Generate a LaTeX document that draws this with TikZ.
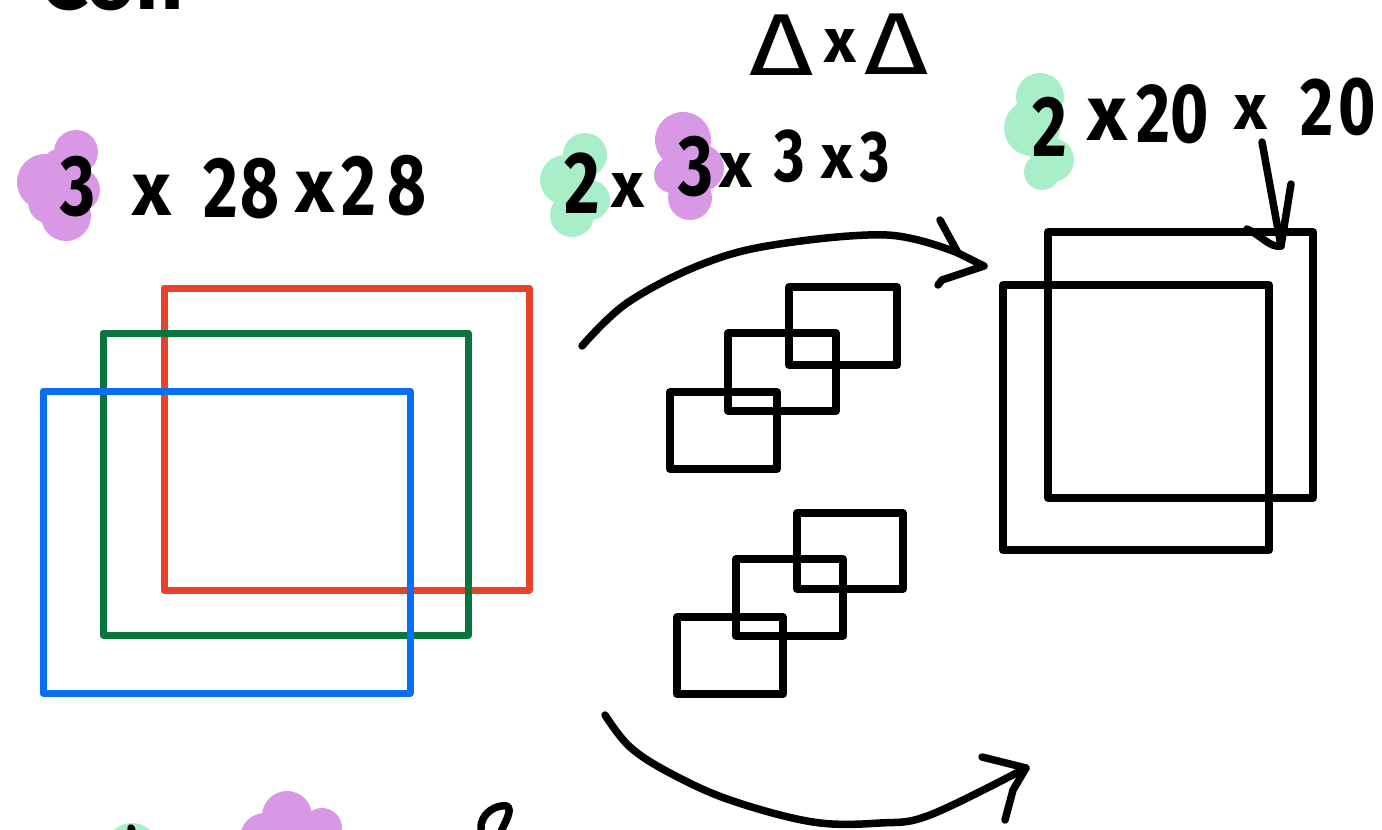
\documentclass[tikz,border=0pt]{standalone}
\usepackage{fontspec}
\setmainfont{Fira Sans}
\definecolor{chanR}{HTML}{E8412C}
\definecolor{chanG}{HTML}{08763C}
\definecolor{chanB}{HTML}{0A6EF5}
\definecolor{hlPurple}{HTML}{D998E6}
\definecolor{hlGreen}{HTML}{A8EFC9}
\begin{document}
\begin{tikzpicture}[x=1pt, y=-1pt, line cap=round, line join=round,
  ink/.style={draw=black, line width=7.5pt},
  fmap/.style={draw=#1, line width=7pt, inner sep=0pt, outer sep=0pt},
  kbox/.style={draw=black, line width=7.5pt, inner sep=0pt, outer sep=0pt},
  dig/.style={font=\fontsize{#1}{#1}\selectfont\bfseries, inner sep=0pt, xscale=0.78},
  tms/.style={font=\fontsize{#1}{#1}\selectfont\bfseries, inner sep=0pt},
  tri/.style={font=\fontsize{#1}{#1}\selectfont, inner sep=0pt, xscale=1.25},
  hlP/.style={fill=hlPurple},
  hlG/.style={fill=hlGreen}]
\useasboundingbox (0,0) rectangle (1382,830);
\clip (0,0) rectangle (1382,830);

% ---------- highlight blobs behind the channel counts ----------
\fill[hlP] (76,152) circle (22) (45,182) circle (28) (78,190) circle (22)
           (66,216) circle (25) (50,202) circle (22) (62,170) circle (22);
\fill[hlG] (585,155) circle (22) (565,180) circle (25) (590,200) circle (20)
           (572,215) circle (22);
\fill[hlP] (683,140) circle (28) (700,168) circle (24) (690,198) circle (22)
           (672,175) circle (18);
\fill[hlG] (1040,97) circle (24) (1032,128) circle (28) (1052,160) circle (22)
           (1042,172) circle (18);
\fill[hlG] (132,850) circle (27);
\fill[hlP] (287,816) circle (25) (322,828) circle (20) (265,838) circle (25);

% ---------- partly visible heading ----------
\node[tms=84, anchor=base west] (head) at (40,9) {Con};

% ---------- input: three colour channels ----------
\node[fmap=chanR, minimum width=365pt, minimum height=302pt] (inR) at (346.5,439) {};
\node[fmap=chanG, minimum width=365pt, minimum height=302pt] (inG) at (285.5,484) {};
\node[fmap=chanB, minimum width=367pt, minimum height=302pt] (inB) at (226.5,542) {};

% label 3 x 28 x 28
\node[dig=86] (l1a) at (78,187) {3};
\node[tms=76] (l1b) at (152,195) {x};
\node[dig=86] (l1c) at (221,188) {2};
\node[dig=86] (l1d) at (260,189) {8};
\node[tms=76] (l1e) at (315,192) {x};
\node[dig=86] (l1f) at (359,186) {2};
\node[dig=86] (l1g) at (407,186) {8};

% ---------- kernels: two filters of 3 x 3 x 3 ----------
\node[kbox, minimum width=108pt, minimum height=78pt] (k1a) at (843,326) {};
\node[kbox, minimum width=108pt, minimum height=78pt] (k1b) at (782,372) {};
\node[kbox, minimum width=107pt, minimum height=77pt] (k1c) at (723.5,430.5) {};
\node[kbox, minimum width=106pt, minimum height=76pt] (k2a) at (850,551) {};
\node[kbox, minimum width=107pt, minimum height=77pt] (k2b) at (789.5,597.5) {};
\node[kbox, minimum width=106pt, minimum height=77pt] (k2c) at (730,655.5) {};

% label 2 x 3 x 3 x 3
\node[dig=88] (l2a) at (582,183) {2};
\node[tms=64] (l2b) at (628,191) {x};
\node[dig=86] (l2c) at (696,167) {3};
\node[tms=64] (l2d) at (736,171) {x};
\node[dig=75] (l2e) at (790,156) {3};
\node[tms=62] (l2f) at (837,162) {x};
\node[dig=72] (l2g) at (875,157) {3};

% label above the kernels
\node[tri=88] (l0a) at (782,45) {Δ};
\node[tms=62] (l0b) at (840,46) {x};
\node[tri=88] (l0c) at (897,44) {Δ};

% ---------- output: two feature maps ----------
\node[kbox, minimum width=265pt, minimum height=266pt] (outA) at (1180.5,365) {};
\node[kbox, minimum width=266pt, minimum height=265pt] (outB) at (1136,417.5) {};

% label 2 x 20 x 20
\node[dig=86] (l3a) at (1050,127) {2};
\node[tms=78] (l3b) at (1107,120) {x};
\node[dig=84] (l3c) at (1153,114) {2};
\node[dig=84] (l3d) at (1190,114) {0};
\node[tms=64] (l3e) at (1251,113) {x};
\node[dig=82] (l3f) at (1317,107) {2};
\node[dig=82] (l3g) at (1357,107) {0};

% ---------- connectors ----------
\coordinate (a1s) at (582,346);
\coordinate (a1e) at (958,253);
\coordinate (a1t) at (984,266);
\draw[ink] plot[smooth, tension=0.6] coordinates
  {(a1s) (627,303) (700,265) (773,245) (887,235) (a1e)};
\draw[ink] (940,220) -- (a1e) -- (a1t) -- (942,280) -- (938,285);

\coordinate (a2s) at (605,715);
\coordinate (a2t) at (1026,768);
\draw[ink] plot[smooth, tension=0.6] coordinates
  {(a2s) (630,747) (670,773) (730,800) (813,822) (880,823) (930,815) (a2t)};
\draw[ink] (982,757) -- (a2t) -- (1013,790) -- (1005,820);

\coordinate (a3s) at (1262,142);
\coordinate (a3t) at (1281,246);
\draw[ink] (a3s) -- (a3t);
\draw[ink] (1291,184) -- (a3t);
\draw[ink] (1247,229) .. controls (1262,236) and (1270,248) .. (a3t);

% ---------- fragments of the next row ----------
\draw[ink] (131,828) -- (133,834);
\draw[ink] (481,829) .. controls (480,813) and (497,804) .. (507,806)
                     .. controls (513,810) and (505,822) .. (500,834);
\end{tikzpicture}
\end{document}
